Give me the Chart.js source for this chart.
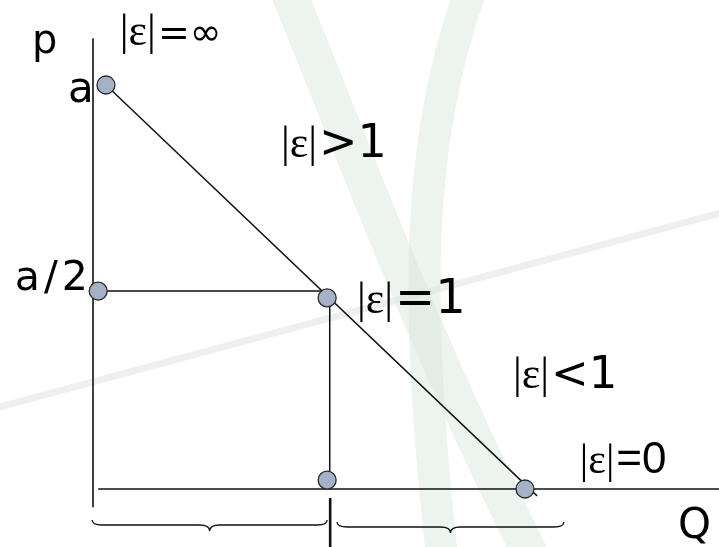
<!DOCTYPE html>
<html>
<head>
<meta charset="utf-8">
<script src="https://cdn.jsdelivr.net/npm/chart.js@4"></script>
<style>
  html, body { margin: 0; padding: 0; background: #fff; }
  canvas { display: block; }
</style>
</head>
<body>
<canvas id="elastChart" width="719" height="547"></canvas>
<script>
// Elasticidad a lo largo de una demanda lineal (p = a - bQ)

// ejes (unidades: Q horizontal, p vertical)
const pAxisQ = [0, 0];
const pAxisP = [-0.45, 11.16];
const qAxisQ = [0.12, 14.5];
const qAxisP = [0, 0];

// curva de demanda
const demandQ = [0.3, 10.28];
const demandP = [10, -0.17];

// guias en el punto medio
const guideHQ = [0.12, 5.42];
const guideHP = [4.9, 4.9];
const guideVQ = [5.48, 5.48];
const guideVP = [4.73, 0.2];
const tickQ = [5.49, 5.49];
const tickP = [-0.22, -1.44];

// puntos marcados
const markerQ = [0.3, 0.12, 5.42, 5.42, 10];
const markerP = [10, 4.9, 4.73, 0.22, 0];

// llaves bajo el eje Q: [desde, hasta]
const braceFrom = [-0.02, 5.65];
const braceTo = [5.42, 10.9];

// rotulos
const axisLabels = ['p', 'a', 'a/2', 'Q'];
const axisLabelQ = [-1.41, -0.58, -1.81, 13.54];
const axisLabelP = [10.79, 9.58, 4.93, -1.21];

const elastLabels = ['=\u221E', '>1', '=1', '<1', '=0'];
const elastQ = [0.62, 4.35, 6.11, 9.72, 11.27];
const elastP = [10.99, 8.22, 4.36, 2.5, 0.4];

const pts = (xs, ys) => xs.map((v, i) => ({ x: v, y: ys[i] }));

const SANS = '"DejaVu Sans", Verdana, sans-serif';
const ARIAL = '"Liberation Sans", Arial, sans-serif';
const SERIF = '"Liberation Serif", "Times New Roman", serif';
const elastSizes = [[44, 38], [44, 46], [44, 48], [44, 45], [42, 44]];
const elastFonts = [SANS, SANS, SANS, SANS, ARIAL];
const axisSizes = [40, 42, 41, 42];
const axisSpacing = ['0px', '0px', '4px', '0px'];

// marca de agua de fondo (fracciones del lienzo)
const watermark = {
  id: 'watermark',
  beforeDatasetsDraw(chart) {
    const { ctx, width: w, height: h } = chart;
    ctx.save();
    ctx.lineCap = 'round';
    ctx.strokeStyle = 'rgba(236,238,237,0.9)';
    ctx.lineWidth = 7;
    ctx.beginPath();
    ctx.moveTo(0, h * 0.744);
    ctx.lineTo(w, h * 0.39);
    ctx.stroke();

    ctx.strokeStyle = 'rgba(214,229,220,0.45)';
    ctx.lineWidth = 36;
    ctx.beginPath();
    ctx.moveTo(w * 0.40, -10);
    ctx.bezierCurveTo(w * 0.50, h * 0.30, w * 0.58, h * 0.60, w * 0.74, h * 1.02);
    ctx.stroke();

    ctx.lineWidth = 32;
    ctx.beginPath();
    ctx.moveTo(w * 0.655, -10);
    ctx.bezierCurveTo(w * 0.58, h * 0.25, w * 0.575, h * 0.55, w * 0.615, h * 1.02);
    ctx.stroke();
    ctx.restore();
  }
};

const overlay = {
  id: 'overlay',
  afterDatasetsDraw(chart) {
    const { ctx, scales: { x, y } } = chart;
    ctx.save();
    ctx.strokeStyle = '#111';
    ctx.lineWidth = 1.3;
    braceFrom.forEach((q0, i) => {
      const x1 = x.getPixelForValue(q0);
      const x2 = x.getPixelForValue(braceTo[i]);
      const yTop = y.getPixelForValue(0) + 31 + i * 2;
      const yMid = yTop + 5;
      const yTip = yMid + 6;
      const xm = (x1 + x2) / 2;
      const r = 10;
      ctx.beginPath();
      ctx.moveTo(x1, yTop);
      ctx.quadraticCurveTo(x1, yMid, x1 + r, yMid);
      ctx.lineTo(xm - r, yMid);
      ctx.quadraticCurveTo(xm, yMid, xm, yTip);
      ctx.quadraticCurveTo(xm, yMid, xm + r, yMid);
      ctx.lineTo(x2 - r, yMid);
      ctx.quadraticCurveTo(x2, yMid, x2, yTop);
      ctx.stroke();
    });

    ctx.fillStyle = '#000';
    ctx.textBaseline = 'alphabetic';
    ctx.textAlign = 'left';
    axisLabels.forEach((t, i) => {
      ctx.font = axisSizes[i] + 'px ' + SANS;
      ctx.letterSpacing = axisSpacing[i];
      ctx.fillText(t, x.getPixelForValue(axisLabelQ[i]), y.getPixelForValue(axisLabelP[i]));
    });
    ctx.letterSpacing = '0px';
    elastLabels.forEach((t, i) => {
      let px = x.getPixelForValue(elastQ[i]);
      const py = y.getPixelForValue(elastP[i]);
      ctx.font = elastSizes[i][0] + 'px ' + SERIF;
      ctx.fillText('|\u03B5|', px, py);
      px += ctx.measureText('|\u03B5|').width + 2;
      ctx.font = elastSizes[i][1] + 'px ' + elastFonts[i];
      ctx.fillText(t, px, py);
    });
    ctx.restore();
  }
};

const lineStyle = (data, width) => ({
  data, showLine: true, borderColor: '#111', borderWidth: width,
  pointRadius: 0, fill: false, clip: false, order: 2
});

new Chart(document.getElementById('elastChart'), {
  type: 'scatter',
  data: {
    datasets: [
      {
        data: pts(markerQ, markerP),
        pointRadius: 9,
        pointBackgroundColor: '#a3b2c6',
        pointBorderColor: '#2a2a2a',
        pointBorderWidth: 1.3,
        clip: false,
        order: 1
      },
      lineStyle(pts(pAxisQ, pAxisP), 1.6),
      lineStyle(pts(qAxisQ, qAxisP), 1.6),
      lineStyle(pts(demandQ, demandP), 1.5),
      lineStyle(pts(guideHQ, guideHP), 1.5),
      lineStyle(pts(guideVQ, guideVP), 1.5),
      lineStyle(pts(tickQ, tickP), 2.6)
    ]
  },
  options: {
    responsive: false,
    animation: false,
    layout: { padding: 0, autoPadding: false },
    plugins: { legend: { display: false }, tooltip: { enabled: false } },
    scales: {
      x: { type: 'linear', display: false, min: -2.153, max: 14.491 },
      y: { type: 'linear', display: false, min: -1.436, max: 12.104 }
    }
  },
  plugins: [watermark, overlay]
});
</script>
</body>
</html>
